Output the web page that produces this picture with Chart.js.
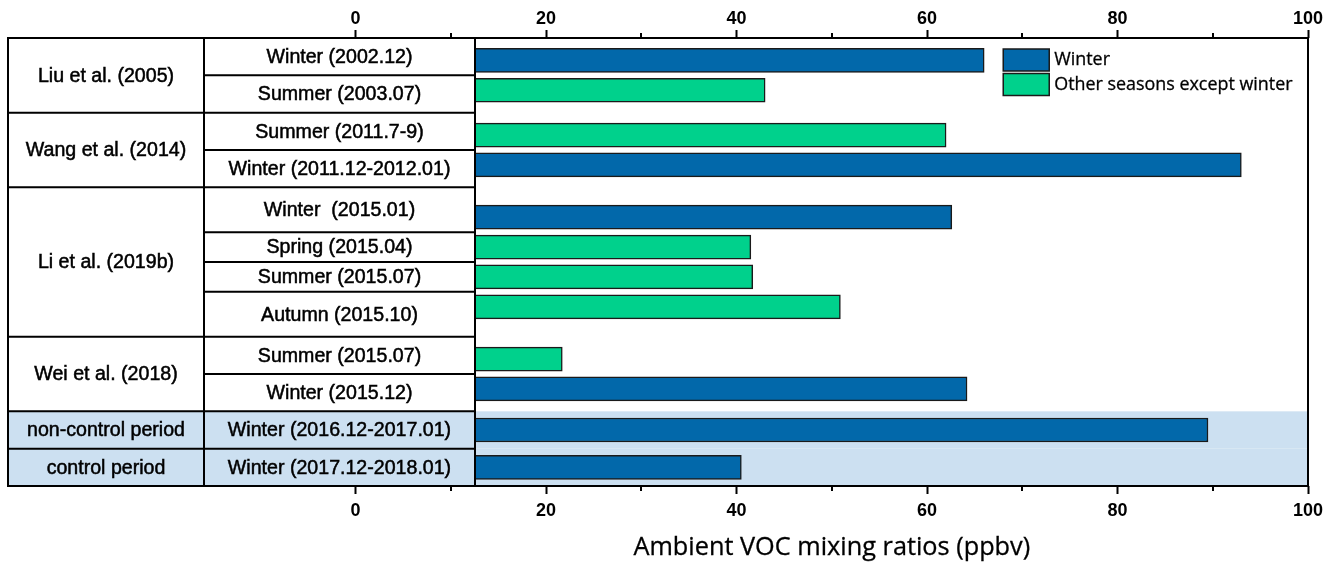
<!DOCTYPE html>
<html>
<head>
<meta charset="utf-8">
<title>Ambient VOC mixing ratios</title>
<script src="https://cdn.jsdelivr.net/npm/chart.js@4.4.1/dist/chart.umd.min.js"></script>
<style>
  html, body { margin: 0; padding: 0; background: #ffffff; overflow: hidden; }
  #wrap { width: 1341px; height: 566px; }
</style>
</head>
<body>
<div id="wrap"><canvas id="voc" width="1341" height="566"></canvas></div>
<script>
// ---- data ----
const studies = ['Liu et al. (2005)', 'Wang et al. (2014)', 'Li et al. (2019b)', 'Wei et al. (2018)', 'non-control period', 'control period'];
const periodLabels = [
  'Winter (2002.12)', 'Summer (2003.07)',
  'Summer (2011.7-9)', 'Winter (2011.12-2012.01)',
  'Winter  (2015.01)', 'Spring (2015.04)', 'Summer (2015.07)', 'Autumn (2015.10)',
  'Summer (2015.07)', 'Winter (2015.12)',
  'Winter (2016.12-2017.01)',
  'Winter (2017.12-2018.01)'
];
const studyOfPeriod = [0, 0, 1, 1, 2, 2, 2, 2, 3, 3, 4, 5];
const isWinter = [true, false, false, true, true, false, false, false, false, true, true, true];
const vocValues = [66.0, 43.0, 62.0, 93.0, 62.6, 41.5, 41.7, 50.9, 21.7, 64.2, 89.5, 40.5];
const shadedStudies = [4, 5];
const xTicks = [0, 20, 40, 60, 80, 100];
const xMinorTicks = [10, 30, 50, 70, 90];
const seriesNames = ['Winter', 'Other seasons except winter'];
const axisTitle = 'Ambient VOC mixing ratios (ppbv)';

// ---- styles ----
const WINTER_COLOR = '#0268AA';
const OTHER_COLOR = '#00D18C';
const SHADE_COLOR = '#CCE0F1';
const LINE_COLOR = '#000000';
const TABLE_FONT = '19.6px "Liberation Sans", Arial, sans-serif';
const TICK_FONT = { family: '"Liberation Sans", Arial, sans-serif', size: 18, weight: 'bold' };
const LEGEND_FONT = '17.9px "Open Sans", "Noto Sans", sans-serif';
const TITLE_FONT = '25.3px "Open Sans", "Noto Sans", sans-serif';
const COL1_WIDTH = 196;   // study column
const COL2_WIDTH = 271;   // period column
const BAR_STEP = 0.8;     // spacing of bars inside a study block, in row units

// ---- row layout: each study occupies one row unit per period ----
const groups = [];
let cursor = 0;
studies.forEach((name, gi) => {
  const members = [];
  studyOfPeriod.forEach((s, pi) => { if (s === gi) members.push(pi); });
  groups.push({ index: gi, name, start: cursor, end: cursor + members.length, members });
  cursor += members.length;
});
const rowPos = new Array(periodLabels.length);
groups.forEach(g => {
  const n = g.members.length;
  const mid = (g.start + g.end) / 2;
  g.members.forEach((pi, j) => { rowPos[pi] = mid + (j - (n - 1) / 2) * BAR_STEP; });
});
const totalRows = cursor;

const winterData = [], otherData = [];
vocValues.forEach((v, i) => {
  (isWinter[i] ? winterData : otherData).push({ x: v, y: rowPos[i] });
});

// slightly heavier text: fill plus a hairline stroke
function boldishText(ctx, text, x, y, w) {
  ctx.fillText(text, x, y);
  ctx.lineWidth = w;
  ctx.strokeStyle = ctx.fillStyle;
  ctx.strokeText(text, x, y);
}

// ---- plugins ----
const shadePlugin = {
  id: 'shadeRows',
  beforeDatasetsDraw(chart) {
    const { ctx, chartArea: a, scales: { y } } = chart;
    ctx.save();
    ctx.fillStyle = SHADE_COLOR;
    groups.forEach(g => {
      if (!shadedStudies.includes(g.index)) return;
      const t = y.getPixelForValue(g.start), b = y.getPixelForValue(g.end);
      ctx.fillRect(a.left, t, a.right - a.left, b - t);
    });
    ctx.restore();
  }
};

const tablePlugin = {
  id: 'studyTable',
  afterDatasetsDraw(chart) {
    const { ctx, chartArea: a, scales: { y } } = chart;
    const x0 = a.left, x1 = a.left + COL1_WIDTH, x2 = x1 + COL2_WIDTH;
    ctx.save();
    groups.forEach(g => {
      const t = y.getPixelForValue(g.start), b = y.getPixelForValue(g.end);
      ctx.fillStyle = shadedStudies.includes(g.index) ? SHADE_COLOR : '#ffffff';
      ctx.fillRect(x0, t, x2 - x0, b - t);
    });
    ctx.strokeStyle = LINE_COLOR;
    ctx.lineWidth = 2;
    ctx.beginPath();
    // column rules
    [x1, x2].forEach(x => { ctx.moveTo(x, a.top); ctx.lineTo(x, a.bottom); });
    groups.forEach(g => {
      const b = y.getPixelForValue(g.end);
      ctx.moveTo(x0, b); ctx.lineTo(x2, b);
      // rules between periods of one study
      for (let j = 1; j < g.members.length; j++) {
        const yy = y.getPixelForValue((rowPos[g.members[j - 1]] + rowPos[g.members[j]]) / 2);
        ctx.moveTo(x1, yy); ctx.lineTo(x2, yy);
      }
    });
    ctx.stroke();

    ctx.fillStyle = '#000000';
    ctx.font = TABLE_FONT;
    ctx.textAlign = 'center';
    ctx.textBaseline = 'middle';
    groups.forEach(g => {
      const t = y.getPixelForValue(g.start), b = y.getPixelForValue(g.end);
      boldishText(ctx, g.name, (x0 + x1) / 2, (t + b) / 2 + 1, 0.5);
      g.members.forEach((pi, j) => {
        const lo = j === 0 ? g.start : (rowPos[g.members[j - 1]] + rowPos[pi]) / 2;
        const hi = j === g.members.length - 1 ? g.end : (rowPos[pi] + rowPos[g.members[j + 1]]) / 2;
        const cy = (y.getPixelForValue(lo) + y.getPixelForValue(hi)) / 2;
        boldishText(ctx, periodLabels[pi], (x1 + x2) / 2, cy + 1, 0.5);
      });
    });
    ctx.restore();
  },
  afterDraw(chart) {
    const { ctx, chartArea: a, scales: { x } } = chart;
    ctx.save();
    // minor ticks, top and bottom
    ctx.strokeStyle = LINE_COLOR;
    ctx.lineWidth = 2;
    ctx.beginPath();
    xMinorTicks.forEach(v => {
      const px = Math.round(x.getPixelForValue(v));
      ctx.moveTo(px, a.top); ctx.lineTo(px, a.top - 5);
      ctx.moveTo(px, a.bottom); ctx.lineTo(px, a.bottom + 5);
    });
    ctx.stroke();
    // frame
    ctx.strokeRect(a.left, a.top, a.right - a.left, a.bottom - a.top);

    // legend
    const colors = [WINTER_COLOR, OTHER_COLOR];
    const bx = x.getPixelForValue(68.0);
    ctx.font = LEGEND_FONT;
    ctx.textAlign = 'left';
    ctx.textBaseline = 'middle';
    seriesNames.forEach((name, i) => {
      const cy = a.top + 22 + i * 24.5;
      ctx.fillStyle = colors[i];
      ctx.fillRect(bx, cy - 11, 46, 22);
      ctx.lineWidth = 1.5;
      ctx.strokeStyle = '#1a1a1a';
      ctx.strokeRect(bx, cy - 11, 46, 22);
      ctx.fillStyle = '#000000';
      boldishText(ctx, name, bx + 51, cy, 0.3);
    });

    // axis title, centred on the 0-100 span
    ctx.font = TITLE_FONT;
    ctx.textAlign = 'center';
    ctx.textBaseline = 'middle';
    ctx.fillStyle = '#000000';
    const cx = (x.getPixelForValue(xTicks[0]) + x.getPixelForValue(xTicks[xTicks.length - 1])) / 2;
    boldishText(ctx, axisTitle, cx, a.bottom + 62, 0.3);
    ctx.restore();
  }
};

// ---- axes ----
function fixedTicks(scale) { scale.ticks = xTicks.map(v => ({ value: v })); }
const xAxisBase = {
  type: 'linear',
  axis: 'x',
  min: -36.5,
  max: 100,
  afterBuildTicks: fixedTicks,
  border: { display: false },
  grid: { drawOnChartArea: false, drawTicks: true, tickLength: 8, tickWidth: 2, tickColor: LINE_COLOR },
  ticks: { font: TICK_FONT, color: '#000000', maxRotation: 0, autoSkip: false }
};

new Chart(document.getElementById('voc'), {
  type: 'bar',
  data: {
    datasets: [
      { label: seriesNames[0], data: winterData, backgroundColor: WINTER_COLOR, borderColor: '#1a1a1a', borderWidth: 1.5, borderSkipped: false },
      { label: seriesNames[1], data: otherData, backgroundColor: OTHER_COLOR, borderColor: '#1a1a1a', borderWidth: 1.5, borderSkipped: false }
    ]
  },
  options: {
    indexAxis: 'y',
    responsive: false,
    animation: false,
    devicePixelRatio: 1,
    grouped: false,
    barThickness: 24,
    layout: { padding: { left: 8, right: 33, top: 0, bottom: 0 } },
    plugins: { legend: { display: false }, tooltip: { enabled: false } },
    scales: {
      y: { type: 'linear', reverse: true, min: 0, max: totalRows, offset: false, display: false },
      x: Object.assign({}, xAxisBase, {
        position: 'bottom',
        ticks: Object.assign({}, xAxisBase.ticks, { padding: 6 }),
        afterFit(s) { s.height = 80; }
      }),
      xTop: Object.assign({}, xAxisBase, {
        position: 'top',
        ticks: Object.assign({}, xAxisBase.ticks, { padding: 0 }),
        afterFit(s) { s.height = 38; }
      })
    }
  },
  plugins: [shadePlugin, tablePlugin]
});
</script>
</body>
</html>
